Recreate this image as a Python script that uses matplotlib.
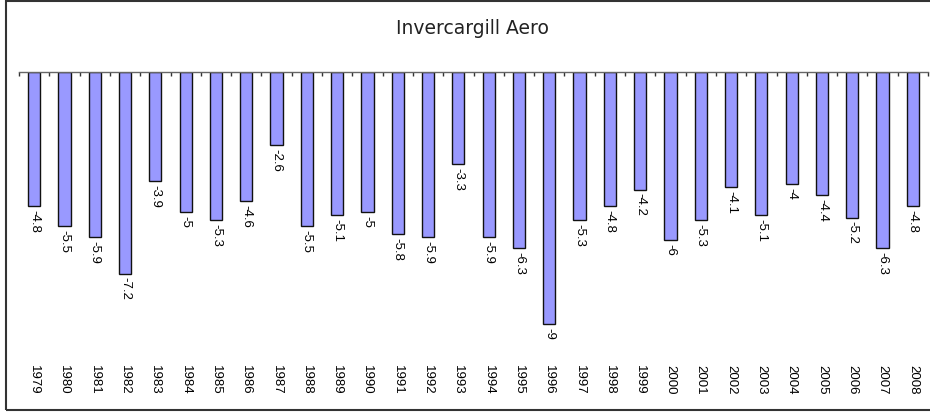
import numpy as np
import matplotlib
matplotlib.use("Agg")
import matplotlib.pyplot as plt
from matplotlib.patches import Rectangle

# data
years = [str(y) for y in range(1979, 2009)]
values = [-4.8, -5.5, -5.9, -7.2, -3.9, -5, -5.3, -4.6, -2.6, -5.5,
          -5.1, -5, -5.8, -5.9, -3.3, -5.9, -6.3, -9, -5.3, -4.8,
          -4.2, -6, -5.3, -4.1, -5.1, -4, -4.4, -5.2, -6.3, -4.8]
title = "Invercargill Aero"

plt.rcParams['font.family'] = ['Liberation Sans', 'DejaVu Sans']

fig = plt.figure(figsize=(9.3, 4.14), dpi=100)
W, H = 930, 414
ax = fig.add_axes([19 / W, 1 - 353 / H, (928 - 19) / W, 280 / H])

x = np.arange(len(years))
bars = ax.bar(x, values, width=0.4, color='#9999ff', edgecolor='#111111', linewidth=1)

# value labels under each bar, read top to bottom
labels = ["%g" % v for v in values]
ax.bar_label(bars, labels=labels, rotation=-90, padding=2, fontsize=9.5)

ax.set_xlim(-0.5, len(years) - 0.5)
ax.set_ylim(-10, 0)
ax.set_yticks([])

# year labels along the bottom, no ticks
ax.set_xticks(x)
ax.set_xticklabels(years, rotation=-90, fontsize=9.5, va='top')
ax.tick_params(axis='x', which='major', length=0, pad=8.5, bottom=True, top=False)

# small tick marks between categories on the zero line
ax.set_xticks(np.arange(len(years) + 1) - 0.5, minor=True)
ax.tick_params(axis='x', which='minor', top=True, bottom=False, direction='in',
               length=3, width=1, color='#333333')

for s in ['left', 'right', 'bottom']:
    ax.spines[s].set_visible(False)
ax.spines['top'].set_color('#666666')
ax.spines['top'].set_linewidth(1)

fig.text(472 / W, 1 - 28 / H, title, ha='center', va='center', fontsize=13.5,
         family='DejaVu Sans', color='#222222')

# chart frame
fig.patches.append(Rectangle((6 / W, 3 / H), 1.0, (411 - 2) / H, transform=fig.transFigure,
                             fill=False, edgecolor='#333333', linewidth=1.5))

fig.savefig("out.png", dpi=100)
